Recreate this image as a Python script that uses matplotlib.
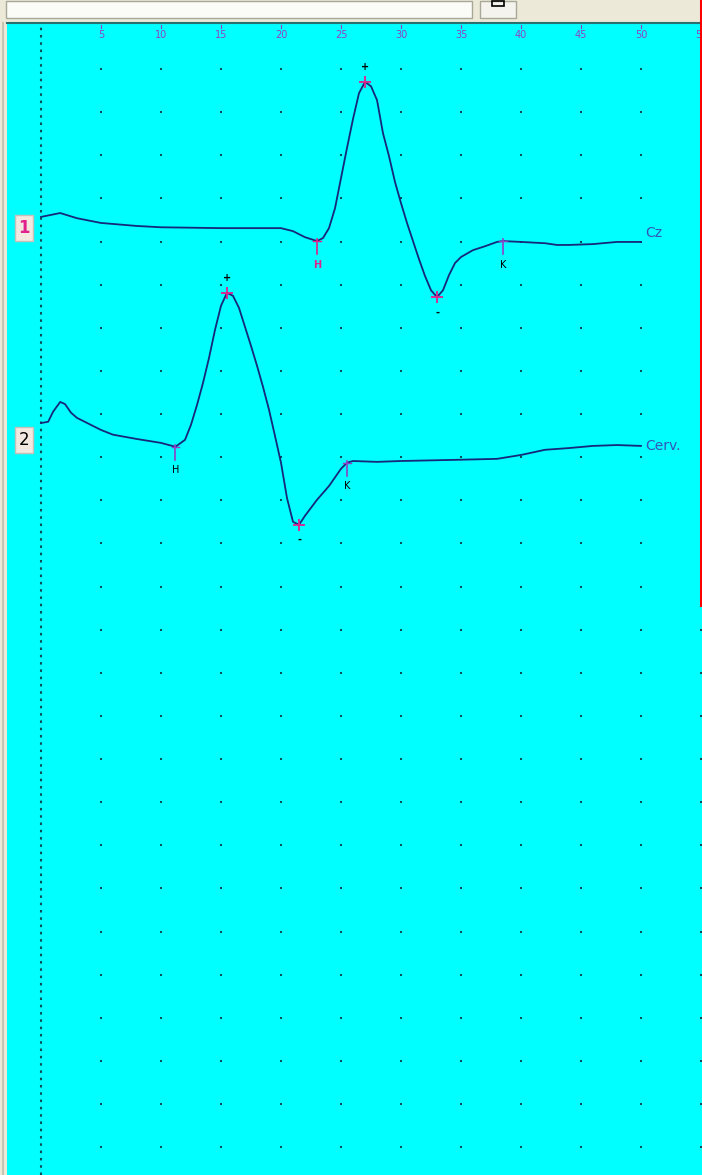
import matplotlib
matplotlib.use("Agg")
import matplotlib.pyplot as plt
from matplotlib.patches import Rectangle
import numpy as np

# time axis (ms) and amplitudes (grid divisions, positive up, relative to channel baseline)
cz_t = [0, 1.6, 3, 5, 8, 10, 15, 20, 21, 22, 23, 23.5, 24, 24.5, 25, 25.5, 26, 26.5, 27,
        27.5, 28, 28.5, 29, 29.5, 30, 30.5, 31, 31.5, 32, 32.5, 33, 33.5, 34, 34.5, 35,
        36, 37, 38, 38.5, 40, 42, 43, 44, 46, 48, 50]
cz_amp = [0.26, 0.35, 0.23, 0.12, 0.05, 0.02, 0.0, 0.0, -0.07, -0.21, -0.30, -0.23, 0.0,
          0.46, 1.16, 1.86, 2.53, 3.13, 3.39, 3.29, 2.97, 2.20, 1.67, 1.07, 0.58, 0.12,
          -0.30, -0.72, -1.11, -1.44, -1.60, -1.44, -1.09, -0.81, -0.67, -0.51, -0.42,
          -0.32, -0.30, -0.32, -0.35, -0.39, -0.39, -0.37, -0.32, -0.32]

cerv_t = [0, 0.6, 1, 1.6, 2, 2.5, 3, 4, 5, 6, 8, 10, 11.2, 12, 12.5, 13, 13.5, 14, 14.5,
          15, 15.5, 16, 16.5, 17, 17.5, 18, 18.5, 19, 19.5, 20, 20.5, 21, 21.5, 22, 23,
          24, 25, 25.5, 26, 28, 30, 35, 38, 40, 42, 44, 46, 48, 50]
cerv_amp = [0.39, 0.42, 0.65, 0.88, 0.83, 0.63, 0.51, 0.37, 0.23, 0.12, 0.02, -0.07, -0.16,
            0.0, 0.35, 0.81, 1.32, 1.90, 2.55, 3.11, 3.41, 3.34, 3.06, 2.62, 2.18, 1.72,
            1.23, 0.70, 0.09, -0.53, -1.35, -1.90, -1.97, -1.76, -1.39, -1.07, -0.67,
            -0.53, -0.49, -0.51, -0.49, -0.46, -0.44, -0.35, -0.23, -0.19, -0.14, -0.12,
            -0.14]

channel_names = ["Cz", "Cerv."]
channel_numbers = ["1", "2"]
baselines = [-3.69, -8.60]

# latency marks (ms): H onset, positive peak, negative trough, K end
cz_marks = {"H": 23.0, "+": 27.0, "-": 33.0, "K": 38.5}
cerv_marks = {"H": 11.2, "+": 15.5, "-": 21.5, "K": 25.5}

x_ticks = [5, 10, 15, 20, 25, 30, 35, 40, 45, 50, 55]

BG = "#00ffff"
TRACE = "#16287a"
MAGENTA = "#e0208c"
PURPLE = "#9040c8"
DOT = "#0a4f55"

W, H = 702, 1175
fig = plt.figure(figsize=(W / 100, H / 100), dpi=100)
fig.patch.set_facecolor("#ece9d8")

# window chrome at the top
fig.add_artist(Rectangle((6 / W, 1 - 18 / H), 466 / W, 17 / H, transform=fig.transFigure,
                         facecolor="#fbfbf8", edgecolor="#a8a898", lw=1))
fig.add_artist(Rectangle((480 / W, 1 - 18 / H), 36 / W, 17 / H, transform=fig.transFigure,
                         facecolor="#f4f3ee", edgecolor="#a8a898", lw=1))
fig.add_artist(Rectangle((492 / W, 1 - 6 / H), 12 / W, 5 / H, transform=fig.transFigure,
                         facecolor="none", edgecolor="black", lw=1.2))

ax = fig.add_axes([7 / W, 0, (W - 7) / W, (H - 23) / H])
ax.set_facecolor(BG)
px_ms = 12.0
ax.set_xlim(-34 / px_ms, (W - 41) / px_ms)
ax.set_ylim(-(H - 69) / 43.125, 46 / 43.125)
for side in ["left", "right", "bottom"]:
    ax.spines[side].set_visible(False)
ax.spines["top"].set_color("#2a7070")
ax.spines["top"].set_linewidth(1.5)
ax.set_xticks([])
ax.set_yticks([])

# dotted grid
gx, gy = np.meshgrid(x_ticks, -np.arange(0, 26))
ax.scatter(gx.ravel(), gy.ravel(), s=4, color=DOT, marker="s", lw=0, zorder=1)
ax.axvline(0, color=DOT, lw=1.5, linestyle=(0, (1.2, 2.3)), zorder=1)

# tick labels along the top
for xv in x_ticks:
    ax.text(xv, 1 - 12 / (H - 23), str(xv), transform=ax.get_xaxis_transform(),
            ha="center", va="center", fontsize=7, color=PURPLE)
    ax.plot([xv, xv], [1 - 2 / (H - 23), 1 - 5 / (H - 23)], color=PURPLE, lw=0.8,
            transform=ax.get_xaxis_transform())

traces = [(cz_t, cz_amp, cz_marks), (cerv_t, cerv_amp, cerv_marks)]
for i, (t, amp, marks) in enumerate(traces):
    base = baselines[i]
    y = base + np.array(amp)
    ax.plot(t, y, color=TRACE, lw=1.3, zorder=3)

    ax.text(-1.42, base, channel_numbers[i], ha="center", va="center", fontsize=12,
            fontweight="bold" if i == 0 else "normal",
            color=MAGENTA if i == 0 else "black",
            bbox=dict(boxstyle="square,pad=0.22", facecolor="#f2e8e0", edgecolor="#c8c0b8"))
    ax.text(t[-1] + 0.35, y[-1] + (0.2 if i == 0 else 0.0), channel_names[i],
            ha="left", va="center", fontsize=10, color="#3355bb")

    lab_color = MAGENTA if i == 0 else "black"
    tick_color = MAGENTA if i == 0 else PURPLE
    for key in ["H", "K"]:
        tm = marks[key]
        ym = base + np.interp(tm, t, amp)
        ax.plot([tm, tm], [ym + 0.05, ym - 0.3], color=tick_color if key == "H" else PURPLE,
                lw=1.2, zorder=4)
        ax.plot([tm - 0.3, tm + 0.3], [ym, ym], color=tick_color if key == "H" else PURPLE,
                lw=1.0, zorder=4)
        ax.annotate(key, (tm, ym), xytext=(0, -17), textcoords="offset points",
                    ha="center", va="center", fontsize=7,
                    color=lab_color if key == "H" else "black",
                    fontweight="bold" if (i == 0 and key == "H") else "normal")
    for key, dy in [("+", 11), ("-", -11)]:
        tm = marks[key]
        ym = base + np.interp(tm, t, amp)
        ax.plot(tm, ym, marker="+", ms=8, mew=1.3, color=MAGENTA, zorder=5)
        ax.annotate(key, (tm, ym), xytext=(0, dy), textcoords="offset points",
                    ha="center", va="center", fontsize=7, color="black",
                    fontweight="bold")

# red window edge at the right
fig.add_artist(plt.Line2D([700.5 / W, 700.5 / W], [1 - 605 / H, 1], color="red", lw=2.2,
                          transform=fig.transFigure))
fig.add_artist(plt.Line2D([3 / W, 3 / W], [0, 1 - 23 / H], color="#c8c4b4", lw=1.5,
                          transform=fig.transFigure))

fig.savefig("out.png", dpi=100, facecolor=fig.get_facecolor())
